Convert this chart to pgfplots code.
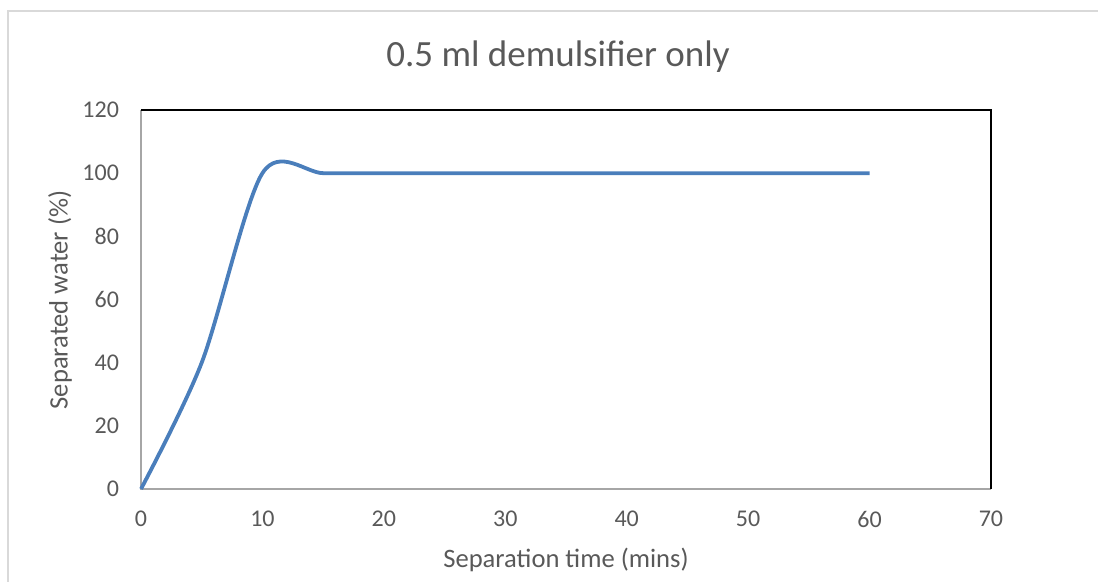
\documentclass[border=0pt]{standalone}
\usepackage{fontspec}
\setmainfont{Carlito}
\usepackage{pgfplots}
\pgfplotsset{compat=1.18}
\definecolor{seriesblue}{HTML}{4A7EBB}
\definecolor{txtgray}{HTML}{595959}
\definecolor{axgray}{HTML}{A6A6A6}
\definecolor{bordergray}{HTML}{D9D9D9}
\begin{document}
\begin{tikzpicture}
\useasboundingbox (-70.5pt,-46.5pt) rectangle (478.5pt,244.5pt);
% chart area border
\draw[draw=bordergray, line width=0.6pt] (-66.5pt,-80pt) rectangle (500pt,239pt);
\begin{axis}[
  at={(0pt,0pt)}, anchor=south west,
  scale only axis, width=425pt, height=189.5pt,
  xmin=0, xmax=70, ymin=0, ymax=120,
  xtick={0,10,...,70}, ytick={0,20,...,120},
  axis line style={draw=none},
  major tick length=0pt,
  tick label style={font=\fontsize{12}{14}\selectfont, text=txtgray},
  /pgf/number format/assume math mode=true,
  xticklabel shift=7.5pt,
  yticklabel shift=7.5pt,
  clip=false,
]
\draw[axgray, line width=0.9pt] (rel axis cs:0,1) -- (rel axis cs:0,0) -- (rel axis cs:1,0);
\draw[black, line width=1pt] (rel axis cs:0,1) -- (rel axis cs:1,1) -- (rel axis cs:1,0);
\addplot[seriesblue, line width=1.9pt, smooth, tension=0.5] coordinates {
  (0,0) (5,40) (10,100) (15,100) (20,100) (25,100) (30,100)
  (35,100) (40,100) (45,100) (50,100) (55,100) (60,100)
};
\end{axis}
\node[text=txtgray, font=\fontsize{18.5}{21}\selectfont] at (208.5pt,216pt) {0.5 ml demulsifier only};
\node[text=txtgray, font=\fontsize{13.3}{15}\selectfont] at (212.5pt,-35.5pt) {Separation time (mins)};
\node[text=txtgray, font=\fontsize{13.3}{15}\selectfont, rotate=90] at (-40.5pt,94.5pt) {Separated water (\%)};
\end{tikzpicture}
\end{document}
